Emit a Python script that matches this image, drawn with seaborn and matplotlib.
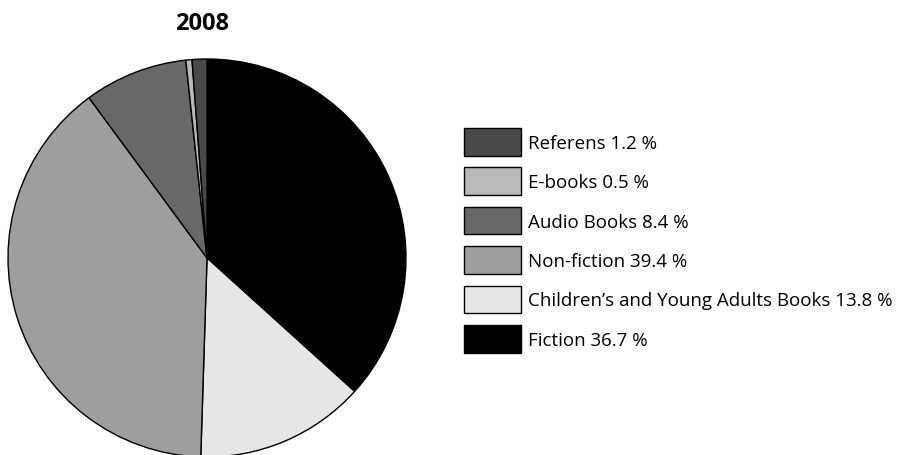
import matplotlib
matplotlib.use("Agg")
import matplotlib.pyplot as plt
import seaborn as sns

# ================================
# 数据
# ================================
categories = ["Fiction", "Children’s and Young Adults Books", "Non-fiction",
              "Audio Books", "E-books", "Referens"]
shares = [36.7, 13.8, 39.4, 8.4, 0.5, 1.2]
colors = ["#000000", "#e6e6e6", "#9d9ea0", "#67686a", "#b8b9bb", "#48494b"]
title = "2008"

# ================================
# 绘图参数
# ================================
sns.set_theme(style="white")
plt.rcParams["font.family"] = ["Open Sans", "DejaVu Sans"]
plt.rcParams["text.color"] = "black"

fig = plt.figure(figsize=(9.01, 4.56), dpi=100)
W, H = 901, 456

# 饼图：中心 (207, 259)，半径 199 像素
cx, cy, r = 207, 259, 199
ax = fig.add_axes([(cx - r) / W, (H - cy - r) / H, 2 * r / W, 2 * r / H])
wedges, _ = ax.pie(shares, colors=colors, startangle=90, counterclock=False,
                   radius=1, wedgeprops={"edgecolor": "black", "linewidth": 1.0})
ax.set_xlim(-1, 1)
ax.set_ylim(-1, 1)
ax.set_aspect("equal")
ax.axis("off")
for w in wedges:
    w.set_clip_on(False)

# 标题
fig.text(202 / W, 1 - 24 / H, title, ha="center", va="center",
         fontsize=17, fontweight="bold", color="black")

# 图例（顺序与原图一致：Referens 在最上）
labels = [f"{c} {v:.1f} %" for c, v in zip(categories, shares)]
order = list(range(len(categories)))[::-1]
fs = 13.5
fpx = fs * 100 / 72
box_h = 27.5
hh = (box_h / fpx - 0.245) / 0.65
leg = fig.legend([wedges[i] for i in order], [labels[i] for i in order],
                 loc="upper left", bbox_to_anchor=(464 / W, 1 - 129 / H),
                 frameon=False, fontsize=fs, borderpad=0, borderaxespad=0,
                 handlelength=57 / fpx, handleheight=hh,
                 handletextpad=7 / fpx, labelspacing=0.635)
for t in leg.get_texts():
    t.set_color("black")

fig.savefig("out.png", dpi=100)
